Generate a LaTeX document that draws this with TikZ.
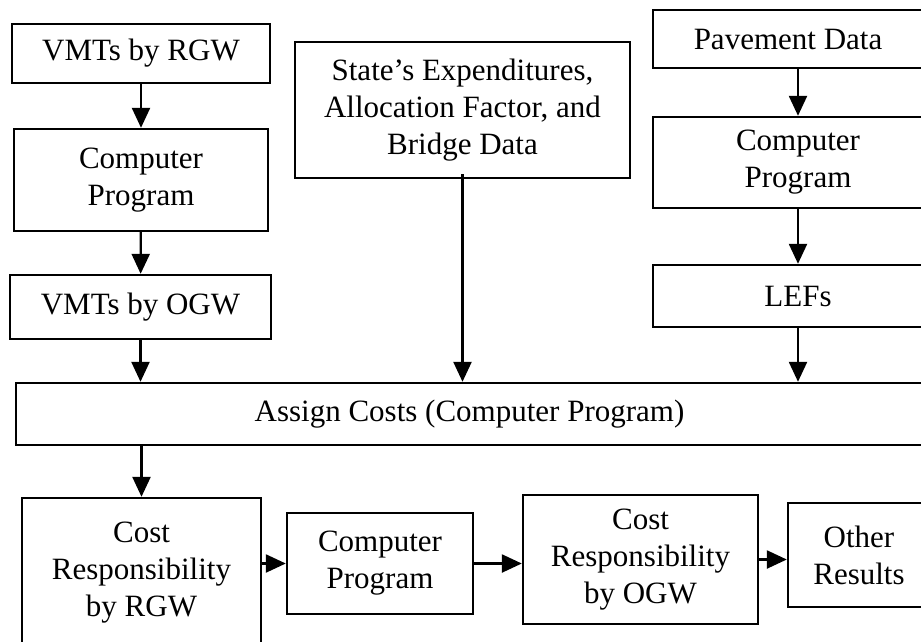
\documentclass[tikz,border=0pt]{standalone}
\usepackage{fontspec}
\setmainfont{Liberation Serif}
\usetikzlibrary{arrows.meta}
\begin{document}
\begin{tikzpicture}[x=1pt,y=-1pt,
  box/.style={draw,line width=2.4pt,inner sep=0pt,align=center,
    font=\fontsize{31}{37}\selectfont},
  arr/.style={line width=2.4pt,-{Triangle[length=20pt,width=18pt]}}]
\useasboundingbox (0,0) rectangle (921,641);
\clip (0,0) rectangle (921,641);
% left column
\node[box,minimum width=258pt,minimum height=59pt] (vr) at (141,53.5) {VMTs by RGW};
\node[box,minimum width=254pt,minimum height=102pt] (cp1) at (141,180) {Computer\\Program};
\node[box,minimum width=261pt,minimum height=64pt] (vo) at (140.5,307) {VMTs by OGW};
% middle input
\node[box,minimum width=335pt,minimum height=136pt] (st) at (462.5,110) {State’s Expenditures,\\Allocation Factor, and\\Bridge Data};
% right column (runs past the right border)
\node[box,minimum width=270pt,minimum height=58pt] (pd) at (788,39) {Pavement Data};
\node[box,minimum width=290pt,minimum height=91pt] (cp2) at (798,162.5) {Computer\\Program};
\node[box,minimum width=290pt,minimum height=62pt] (lef) at (798,296) {LEFs};
% cost assignment
\node[box,minimum width=907pt,minimum height=62pt] (as) at (469.5,414) {Assign Costs (Computer Program)};
% bottom row
\node[box,minimum width=239pt,minimum height=150pt] (cr) at (141.5,573) {Cost\\Responsibility\\by RGW};
\node[box,minimum width=186pt,minimum height=101pt] (cp3) at (380,563.5) {Computer\\Program};
\node[box,minimum width=235pt,minimum height=129pt] (co) at (640.5,559.5) {Cost\\Responsibility\\by OGW};
\node[box,minimum width=142pt,minimum height=104pt] (or) at (859,555) {Other\\Results};
% connectors
\draw[arr] (vr) -- (cp1);
\draw[arr] (cp1) -- (vo);
\draw[arr] (vo.south) -- (vo.south |- as.north);
\draw[arr] ([yshift=5pt]st.south) -- (st.south |- as.north);
\draw[arr] (cp2.north |- pd.south) -- (cp2.north);
\draw[arr] (cp2) -- (lef);
\draw[arr] (lef.south) -- (lef.south |- as.north);
\draw[arr] (as.south -| cr.north) -- (cr.north);
\draw[arr] (cp3.west -| cr.east) -- (cp3.west);
\draw[arr] (cp3.east) -- (cp3.east -| co.west);
\draw[arr] (co.east) -- (co.east -| or.west);
\end{tikzpicture}
\end{document}
